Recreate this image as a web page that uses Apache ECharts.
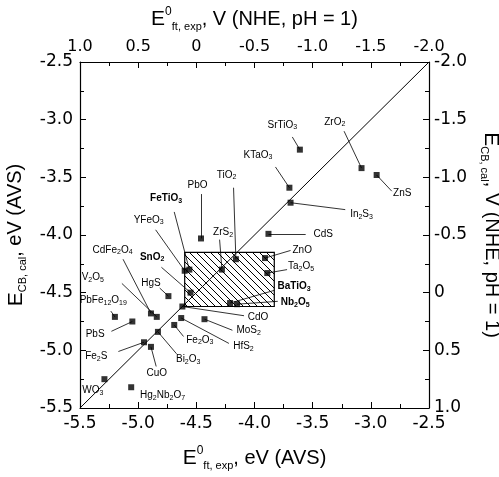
<!DOCTYPE html>
<html><head><meta charset="utf-8">
<script src="https://cdn.jsdelivr.net/npm/echarts/dist/echarts.min.js"></script>
<style>html,body{margin:0;padding:0;background:#fff}#c{width:499px;height:477px}</style>
</head><body><div id="c"></div>
<script>
// ---- data ----
const compounds = ['WO3','Hg2Nb2O7','Fe2S','CuO','Bi2O3','PbS','PbFe12O19','CdFe2O4','V2O5','HgS',
  'Fe2O3','HfS2','CdO','SnO2','YFeO3','FeTiO3','PbO','MoS2','ZrS2','TiO2',
  'BaTiO3','Nb2O5','ZnO','Ta2O5','CdS','In2S3','KTaO3','SrTiO3','ZrO2','ZnS'];
// E0 ft,exp (eV, AVS)
const expEnergy = [-5.29,-5.06,-4.95,-4.89,-4.83,-5.05,-5.20,-4.89,-4.84,-4.74,
  -4.69,-4.63,-4.62,-4.55,-4.60,-4.56,-4.46,-4.43,-4.28,-4.16,
  -4.21,-4.15,-3.91,-3.89,-3.88,-3.69,-3.70,-3.61,-3.08,-2.95];
// E CB,cal (eV, AVS)
const calcEnergy = [-5.25,-5.32,-4.93,-4.97,-4.84,-4.75,-4.71,-4.68,-4.71,-4.53,
  -4.78,-4.72,-4.62,-4.50,-4.31,-4.30,-4.03,-4.73,-4.30,-4.21,
  -4.59,-4.60,-4.20,-4.33,-3.99,-3.72,-3.59,-3.26,-3.42,-3.48];
const boldLabels = ['FeTiO3','SnO2','BaTiO3','Nb2O5'];
const avsTicks = ['-5.5','-5.0','-4.5','-4.0','-3.5','-3.0','-2.5'];
const nheTicks = ['1.0','0.5','0','-0.5','-1.0','-1.5','-2.0'];
const diagonalEnds = [-5.5, -2.5];
const windowX = [-4.60, -3.83];
const windowY = [-4.62, -4.15];

// ---- annotation layout (data units): [textX, textY, leaderEndX, leaderEndY] ----
const labelLayout = [
  [-5.39,-5.35,null,null],[-4.79,-5.39,null,null],[-5.36,-5.05,-5.17,-5.01],[-4.84,-5.20,-4.845,-5.14],
  [-4.57,-5.08,-4.67,-5.03],[-5.37,-4.86,-5.23,-4.835],[-5.30,-4.57,-5.235,-4.66],[-5.22,-4.13,-5.13,-4.21],
  [-5.39,-4.37,-5.14,-4.42],[-4.89,-4.42,-4.815,-4.46],[-4.47,-4.91,-4.61,-4.88],[-4.095,-4.965,-4.22,-4.94],
  [-3.97,-4.71,-4.09,-4.70],[-4.88,-4.19,-4.80,-4.28],[-4.91,-3.87,-4.85,-3.955],[-4.76,-3.68,-4.69,-3.80],
  [-4.49,-3.565,-4.46,-3.645],[-4.05,-4.83,-4.19,-4.826],[-4.27,-3.98,-4.30,-4.04],[-4.24,-3.48,-4.18,-3.59],
  [-3.66,-4.445,-3.83,-4.48],[-3.65,-4.585,-3.80,-4.575],[-3.59,-4.13,-3.69,-4.134],[-3.60,-4.27,-3.72,-4.30],
  [-3.41,-3.99,-3.56,-3.99],[-3.08,-3.82,-3.22,-3.78],[-3.97,-3.305,-3.82,-3.41],[-3.76,-3.045,-3.675,-3.15],
  [-3.31,-3.02,-3.23,-3.10],[-2.73,-3.635,-2.82,-3.62]
];

const FF = '"Liberation Sans", Arial, sans-serif';
const TF = '"DejaVu Sans", sans-serif';

// hatch pattern
const pc = document.createElement('canvas'); pc.width = 7; pc.height = 7;
const g = pc.getContext('2d'); g.strokeStyle = '#000'; g.lineWidth = 1;
g.beginPath(); g.moveTo(-1,-1); g.lineTo(8,8); g.moveTo(-1,6); g.lineTo(1,8); g.moveTo(6,-1); g.lineTo(8,1); g.stroke();

function richName(n){ return n.replace(/(\d+)/g, '{s|$1}'); }
const tickIdx = v => Math.round((v - diagonalEnds[0]) / 0.5);

const nameStyle = {
  color:'#000', fontSize:20, fontFamily:FF, lineHeight:26,
  rich:{
    e:{fontSize:21, fontFamily:FF, lineHeight:26, color:'#000'},
    sup:{fontSize:12, fontFamily:FF, lineHeight:12, verticalAlign:'top', color:'#000'},
    sub:{fontSize:11, fontFamily:FF, lineHeight:8, verticalAlign:'bottom', color:'#000'}
  }
};
function axisBase(ticks){
  return {
    type:'value', min:diagonalEnds[0], max:diagonalEnds[1], interval:0.5,
    axisLine:{onZero:false, lineStyle:{color:'#000', width:1.2}},
    axisTick:{inside:true, length:6, lineStyle:{color:'#000', width:1}},
    minorTick:{show:true, splitNumber:2, length:4, lineStyle:{color:'#000', width:1}},
    splitLine:{show:false}, minorSplitLine:{show:false},
    axisLabel:{color:'#000', fontSize:17, fontFamily:TF, margin:7, showMinLabel:true, showMaxLabel:true,
      formatter:(v)=>ticks[tickIdx(v)]},
    nameLocation:'middle', nameTextStyle:nameStyle
  };
}

const xBottom = Object.assign(axisBase(avsTicks), {position:'bottom', name:'{e|E}{sup|0}{sub|ft, exp}, eV (AVS)', nameGap:37});
const xTop = Object.assign(axisBase(nheTicks), {position:'top', name:'{e|E}{sup|0}{sub|ft, exp}, V (NHE, pH = 1)', nameGap:30});
xTop.axisLabel.fontSize = 16;
const yLeft = Object.assign(axisBase(avsTicks), {position:'left', name:'{e|E}{sub|CB, cal}, eV (AVS)', nameGap:49, nameRotate:90});
const yRight = Object.assign(axisBase(nheTicks), {position:'right', name:'{e|E}{sub|CB, cal}, V (NHE, pH = 1)', nameGap:43, nameRotate:-90});
yRight.axisLabel.margin = 5;

const points = compounds.map((c,i)=>[expEnergy[i], calcEnergy[i]]);
const leaders = [];
compounds.forEach((c,i)=>{ const l = labelLayout[i]; if (l[2] !== null) leaders.push({coords:[[expEnergy[i], calcEnergy[i]],[l[2], l[3]]]}); });

const chart = echarts.init(document.getElementById('c'), null, {renderer:'canvas'});
chart.setOption({
  animation:false, backgroundColor:'#fff',
  textStyle:{fontFamily:FF},
  grid:{left:80, right:70, top:62, bottom:69, containLabel:false, outerBoundsMode:'none'},
  xAxis:[xBottom, xTop],
  yAxis:[yLeft, yRight],
  series:[
    {type:'line', data:[[diagonalEnds[0],diagonalEnds[0]],[diagonalEnds[1],diagonalEnds[1]]], symbol:'none',
      lineStyle:{color:'#000', width:1}, z:2, silent:true,
      markArea:{silent:true, itemStyle:{color:{image:pc, repeat:'repeat'}, borderColor:'#000', borderWidth:1.2},
        label:{show:false},
        data:[[{coord:[windowX[0], windowY[1]]},{coord:[windowX[1], windowY[0]]}]]}},
    {type:'lines', coordinateSystem:'cartesian2d', data:leaders, silent:true, z:3,
      lineStyle:{color:'#000', width:0.8, opacity:1, curveness:0}},
    {type:'scatter', data:points, symbol:'rect', symbolSize:6, itemStyle:{color:'#000'}, z:5, silent:true},
    {type:'custom', data:labelLayout.map(l=>[l[0], l[1]]), z:6, silent:true,
      renderItem:(params, api)=>{
        const p = api.coord([api.value(0), api.value(1)]);
        const n = compounds[params.dataIndex];
        const w = boldLabels.includes(n) ? 'bold' : 'normal';
        return {type:'text', x:p[0], y:p[1], style:{
          text:richName(n), fill:'#000', fontSize:10, fontFamily:FF, fontWeight:w, lineHeight:12,
          align:'center', verticalAlign:'middle',
          rich:{s:{fontSize:7, fontFamily:FF, fontWeight:w, lineHeight:5, verticalAlign:'bottom', fill:'#000'}}
        }};
      }}
  ]
});
</script></body></html>
